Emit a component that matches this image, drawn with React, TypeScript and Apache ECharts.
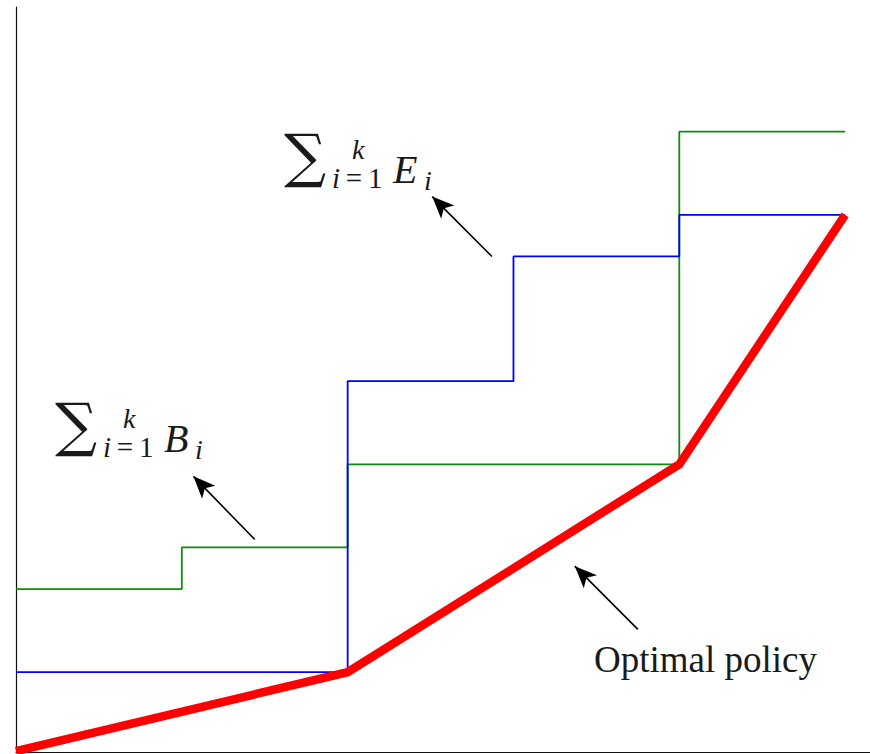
import React, { useEffect, useRef } from "react";
import * as echarts from "echarts";

// stage index along the horizontal axis
const stages = [0, 1, 2, 3, 4, 5];

// cumulative lower bound  sum B_i  (step function, value held until next stage)
const cumB = [4, 5, 7, 7, 15, 15];
// cumulative upper bound  sum E_i
const cumE = [2, 2, 9, 12, 13, 13];

// optimal policy breakpoints
const policyX = [0, 2, 4, 5];
const policyY = [0.1, 2, 7, 13];

// annotation arrows: [tailX, tailY, tipX, tipY] in data units
const arrowE = [2.87, 12.0, 2.51, 13.44];
const arrowB = [1.44, 5.19, 1.07, 6.71];
const arrowPolicy = [3.75, 3.03, 3.37, 4.55];

const X_MAX = 5.15;
const Y_MIN = 0.08;
const Y_MAX = 18;

const SERIF = "Liberation Serif";
const SIGMA_FONT = "DejaVu Serif";
const INK = "#1a1a1a";

function txt(
  x: number,
  y: number,
  text: string,
  size: number,
  family: string,
  italic = false
) {
  return {
    type: "text",
    x,
    y,
    style: {
      text,
      fontSize: size,
      fontFamily: family,
      fontStyle: italic ? "italic" : "normal",
      fill: INK,
      verticalAlign: "middle",
      align: "left",
    },
  };
}

function sumLabel(x: number, y: number, letter: string) {
  // x, y: top-left of the summation sign
  return {
    type: "group",
    x,
    y,
    children: [
      txt(-3, 12, "\u2211", 59, SIGMA_FONT),
      txt(65, 6, "k", 28, SERIF, true),
      {
        type: "text",
        x: 45,
        y: 35,
        style: {
          text: "{it|i}{n|\u2009=\u20091}",
          rich: {
            it: { fontSize: 29, fontFamily: SERIF, fontStyle: "italic", fill: INK },
            n: { fontSize: 29, fontFamily: SERIF, fill: INK },
          },
          verticalAlign: "middle",
          align: "left",
        },
      },
      txt(106, 26, letter, 40, SERIF, true),
      txt(137, 37, "i", 28, SERIF, true),
    ],
  };
}

function arrowData(a: number[]) {
  return [
    { coord: [a[0], a[1]], symbol: "none" },
    { coord: [a[2], a[3]], symbol: "arrow" },
  ];
}

export default function App() {
  const ref = useRef<HTMLDivElement>(null);

  useEffect(() => {
    if (!ref.current) return;
    const chart = echarts.init(ref.current, null, { renderer: "svg" });
    chart.setOption({
      animation: false,
      backgroundColor: "#ffffff",
      grid: { left: 16, right: 0, top: 7, bottom: 2 },
      xAxis: {
        type: "value",
        min: 0,
        max: X_MAX,
        axisLine: { show: true, onZero: false, lineStyle: { color: "#111", width: 1.2 } },
        axisTick: { show: false },
        axisLabel: { show: false },
        splitLine: { show: false },
      },
      yAxis: {
        type: "value",
        min: Y_MIN,
        max: Y_MAX,
        axisLine: { show: true, onZero: false, lineStyle: { color: "#111", width: 1.2 } },
        axisTick: { show: false },
        axisLabel: { show: false },
        splitLine: { show: false },
      },
      series: [
        {
          name: "sumB",
          type: "line",
          step: "end",
          data: stages.map((s, i) => [s, cumB[i]]),
          showSymbol: false,
          lineStyle: { color: "#118a11", width: 1.8 },
          z: 2,
        },
        {
          name: "sumE",
          type: "line",
          step: "end",
          data: stages.map((s, i) => [s, cumE[i]]),
          showSymbol: false,
          lineStyle: { color: "#0000ff", width: 1.8 },
          z: 3,
        },
        {
          name: "policy",
          type: "line",
          data: policyX.map((x, i) => [x, policyY[i]]),
          showSymbol: false,
          lineStyle: { color: "#ff0000", width: 8.5, join: "miter" },
          z: 4,
          markLine: {
            silent: true,
            symbolSize: [14, 22],
            label: { show: false },
            lineStyle: { color: "#000", width: 1.6, type: "solid" },
            emphasis: { disabled: true },
            data: [arrowData(arrowE), arrowData(arrowB), arrowData(arrowPolicy)],
          },
        },
      ],
      graphic: [
        sumLabel(287, 143, "E"),
        sumLabel(58, 412, "B"),
        txt(594, 659, "Optimal policy", 37, SERIF),
      ],
    });
    return () => chart.dispose();
  }, []);

  return (
    <div
      ref={ref}
      style={{ position: "fixed", left: 0, top: 0, width: 870, height: 754 }}
    />
  );
}
